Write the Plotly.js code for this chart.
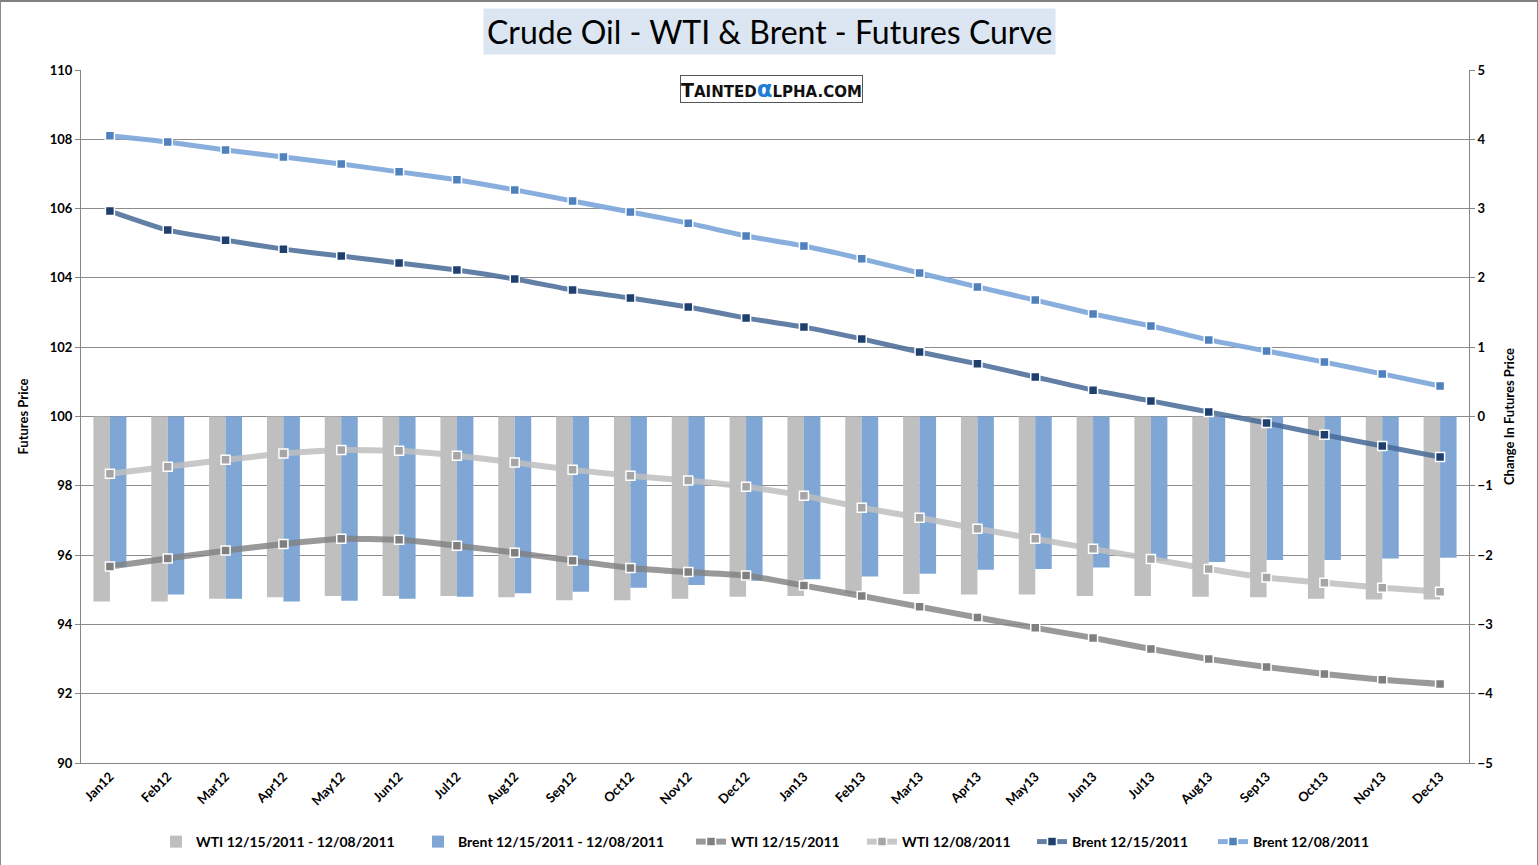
<!DOCTYPE html>
<html>
<head>
<meta charset="utf-8">
<script src="https://cdn.plot.ly/plotly-3.0.1.min.js"></script>
<style>
html,body{margin:0;padding:0;background:#fff;}
#wrap{position:absolute;left:0;top:0;width:1536px;height:863px;border:1px solid #8a8a8a;border-top:2px solid #808080;box-sizing:content-box;}
#chart{width:1536px;height:862px;}
</style>
</head>
<body>
<div id="wrap"><div id="chart"></div></div>
<script>
const categories = ["Jan12","Feb12","Mar12","Apr12","May12","Jun12","Jul12","Aug12","Sep12","Oct12","Nov12","Dec12",
  "Jan13","Feb13","Mar13","Apr13","May13","Jun13","Jul13","Aug13","Sep13","Oct13","Nov13","Dec13"];

const wtiChange = [-2.67,-2.67,-2.63,-2.61,-2.59,-2.59,-2.59,-2.61,-2.65,-2.65,-2.63,-2.60,
  -2.59,-2.55,-2.56,-2.57,-2.57,-2.59,-2.59,-2.60,-2.61,-2.63,-2.64,-2.64];
const brentChange = [-2.17,-2.57,-2.63,-2.67,-2.66,-2.63,-2.60,-2.55,-2.53,-2.47,-2.43,-2.37,
  -2.35,-2.31,-2.27,-2.21,-2.20,-2.18,-2.08,-2.10,-2.07,-2.07,-2.05,-2.04];
const wti1215 = [95.67,95.90,96.13,96.32,96.47,96.44,96.27,96.07,95.84,95.63,95.51,95.41,
  95.12,94.82,94.51,94.20,93.90,93.61,93.29,93.00,92.77,92.57,92.40,92.28];
const wti1208 = [98.35,98.55,98.75,98.93,99.03,99.01,98.87,98.67,98.46,98.29,98.15,97.97,
  97.71,97.37,97.08,96.76,96.47,96.18,95.89,95.60,95.35,95.20,95.06,94.94];
const brent1215 = [105.93,105.38,105.09,104.83,104.63,104.43,104.23,103.97,103.65,103.42,103.16,102.84,
  102.58,102.24,101.86,101.52,101.14,100.76,100.45,100.13,99.81,99.47,99.15,98.83];
const brent1208 = [108.10,107.92,107.69,107.49,107.29,107.06,106.83,106.54,106.22,105.90,105.58,105.21,
  104.92,104.55,104.14,103.74,103.36,102.96,102.61,102.21,101.89,101.57,101.23,100.88];
const seriesNames = ['WTI 12/15/2011 - 12/08/2011','Brent 12/15/2011 - 12/08/2011',
  'WTI 12/15/2011','WTI 12/08/2011','Brent 12/15/2011','Brent 12/08/2011'];

const FONT = "Lato, 'Open Sans', sans-serif";
const legendNames = ['legend','legend2','legend3','legend4','legend5','legend6'];

function lineTrace(i, y, lineColor, markerColor, w){
  return {
    type:'scatter', mode:'lines+markers', name:seriesNames[i], x:categories, y:y, yaxis:'y2',
    legend:legendNames[i],
    line:{color:lineColor, width:w, shape:'spline', smoothing:0.5},
    marker:{symbol:'square', size:9, color:markerColor, line:{color:'#ffffff', width:1.5}}
  };
}

const data = [
  {type:'bar', name:seriesNames[0], legend:'legend', x:categories, y:wtiChange, marker:{color:'#BFBFBF'}},
  {type:'bar', name:seriesNames[1], legend:'legend2', x:categories, y:brentChange, marker:{color:'#7FA6D5'}},
  lineTrace(2, wti1215, 'rgba(128,128,128,0.8)', '#7F7F7F', 6),
  lineTrace(3, wti1208, 'rgba(190,190,190,0.85)', '#A6A6A6', 6),
  lineTrace(4, brent1215, 'rgba(70,105,150,0.85)', '#1F3F6E', 5),
  lineTrace(5, brent1208, 'rgba(130,170,220,0.95)', '#4F81BD', 5)
];

// text start pixel of each legend entry in the reference
const legendTextStart = [197, 459, 732, 903, 1073, 1254];

const layout = {
  width:1536, height:862,
  margin:{l:80, r:68, t:68, b:101, autoexpand:false},
  paper_bgcolor:'#ffffff', plot_bgcolor:'#ffffff',
  font:{family:FONT, color:'#000'},
  barmode:'group', bargap:0.43, bargroupgap:0,
  showlegend:true,
  xaxis:{type:'category', range:[-0.5,23.5], tickangle:-45, showgrid:false, showline:true, automargin:false,
    linecolor:'#868686', linewidth:1, ticks:'', tickfont:{family:FONT, size:13, weight:'bold'}},
  yaxis:{range:[-5,5], dtick:1, side:'right', showgrid:false, zeroline:false, showline:true, automargin:false,
    linecolor:'#868686', ticks:'outside', ticklen:5, tickcolor:'#868686',
    tickfont:{family:FONT, size:13, weight:'bold'},
    title:{text:'Change In Futures Price', font:{family:FONT, size:13, weight:'bold'}, standoff:12}},
  yaxis2:{range:[90,110], dtick:2, overlaying:'y', side:'left', showgrid:true, gridcolor:'#8C8C8C', automargin:false,
    zeroline:false, showline:true, linecolor:'#868686', ticks:'outside', ticklen:5, tickcolor:'#868686',
    tickfont:{family:FONT, size:13, weight:'bold'},
    title:{text:'Futures Price', font:{family:FONT, size:13, weight:'bold'}, standoff:18}},
  annotations:[
    {xref:'paper', yref:'paper', x:(768-80)/1388, y:1.0, xanchor:'center', yanchor:'bottom', yshift:15,
     text:'Crude Oil - WTI &amp; Brent - Futures Curve', showarrow:false,
     font:{family:FONT, size:32, color:'#000'}, bgcolor:'#DCE6F2', borderpad:3, align:'center'},
    {xref:'paper', yref:'paper', x:(770-80)/1388, y:(763-89)/693, xanchor:'center', yanchor:'middle',
     showarrow:false, bordercolor:'#555', borderwidth:1, borderpad:0, bgcolor:'#fff',
     text:'<b>T<span style="font-size:15px">AINTED</span><span style="color:#1E7FD8;font-size:23px">α</span><span style="font-size:15px">LPHA.COM</span></b>',
     font:{family:"'DejaVu Sans', sans-serif", size:19, color:'#111'}}
  ]
};

legendNames.forEach((ln, i) => {
  layout[ln] = {orientation:'h', x:(legendTextStart[i] - 42 - 80)/1388, xanchor:'left',
    y:-0.114, yanchor:'middle', bgcolor:'rgba(0,0,0,0)',
    font:{family:FONT, size:14, color:'#000', weight:'bold'}, itemwidth:30};
});

Plotly.newPlot('chart', data, layout, {displayModeBar:false, staticPlot:true});
</script>
</body>
</html>
